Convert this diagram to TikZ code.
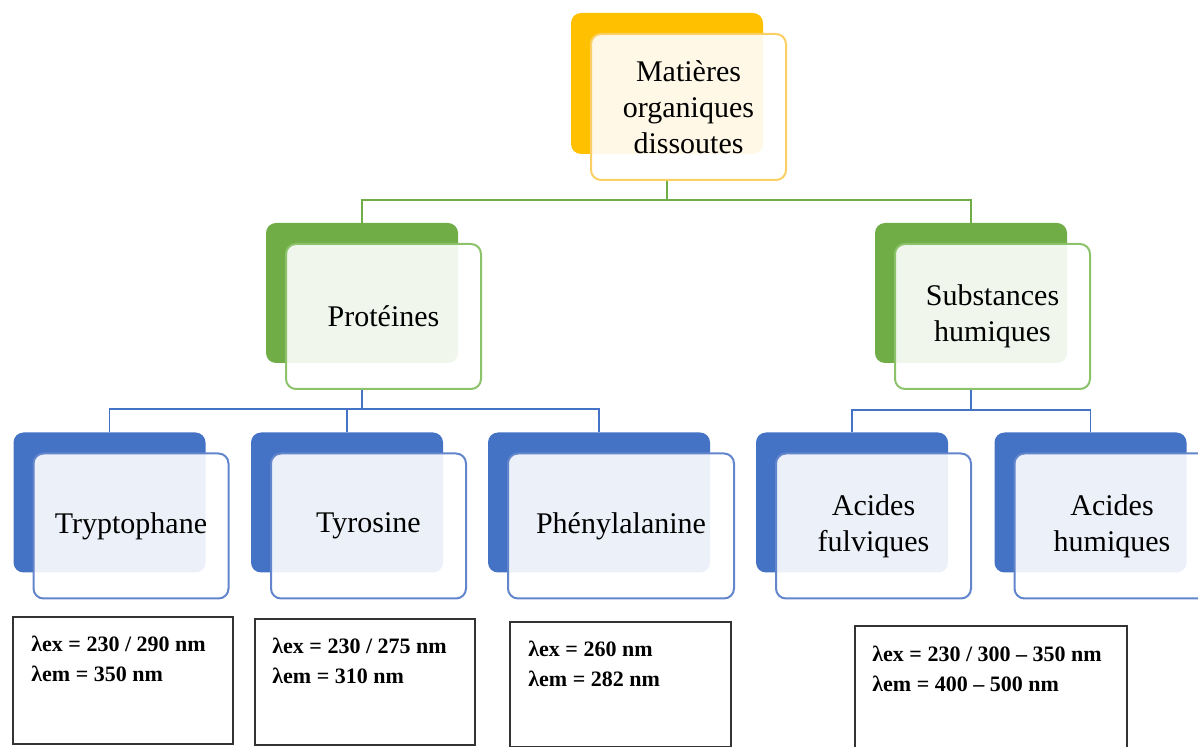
\documentclass[tikz,border=0pt]{standalone}
\usepackage{fontspec}
\setmainfont{Liberation Serif}
\usepackage{tikz}
\usetikzlibrary{positioning}

\definecolor{orangeB}{HTML}{FFC000}
\definecolor{orangeF}{HTML}{FAD065}
\definecolor{greenB}{HTML}{70AD47}
\definecolor{greenF}{HTML}{8CC36A}
\definecolor{blueB}{HTML}{4472C4}
\definecolor{blueF}{HTML}{6385CC}

\begin{document}
\begin{tikzpicture}[x=0.5pt, y=-0.5pt,
  back/.style={rounded corners=5pt, inner sep=0pt, minimum width=96pt, minimum height=70pt},
  front/.style={draw, rounded corners=5pt, line width=1pt, fill=white, fill opacity=0.9, text opacity=1,
    align=center, inner sep=0pt, minimum width=97.5pt, minimum height=72.5pt,
    font=\fontsize{15}{18}\selectfont},
  wide/.style={minimum width=111pt},
  widef/.style={minimum width=113pt},
  gline/.style={draw=greenB, line width=0.8pt},
  bline/.style={draw=blueB, line width=0.8pt},
  databox/.style={draw=black!80, line width=1pt, anchor=north west, inner sep=0pt},
  datatext/.style={anchor=north west, align=left, inner sep=0pt,
    font=\bfseries\fontsize{11}{15}\selectfont}]
  \useasboundingbox (0,0) rectangle (1198,747);
  \clip (0,0) rectangle (1198,747);

  \coordinate (busT) at (0,200);
  \coordinate (busP) at (0,409);
  \coordinate (busS) at (0,410);

  \node (modB)  [back, fill=orangeB, minimum height=70.5pt] at (667,83.5) {};
  \node (mod)   [front, draw=orangeF, minimum height=73pt] at ([shift={(21.5,23.5)}]modB.center)
                {Matières\\organiques\\dissoutes};

  \node (protB) [back, fill=greenB] at (362,293) {};
  \node (prot)  [front, draw=greenF] at ([shift={(21.5,23.5)}]protB.center) {Protéines};
  \node (subB)  [back, fill=greenB] at (971,293) {};
  \node (sub)   [front, draw=greenF] at ([shift={(21.5,23.5)}]subB.center) {Substances\\humiques};

  \node (trpB)  [back, fill=blueB] at (109.5,502.5) {};
  \node (trp)   [front, draw=blueF] at ([shift={(21.5,23.5)}]trpB.center) {Tryptophane};
  \node (tyrB)  [back, fill=blueB] at (347,502.5) {};
  \node (tyr)   [front, draw=blueF] at ([shift={(21.5,23.5)}]tyrB.center) {Tyrosine};
  \node (pheB)  [back, wide, fill=blueB] at (599,502.5) {};
  \node (phe)   [front, widef, draw=blueF] at ([shift={(22,23.5)}]pheB.center) {Phénylalanine};
  \node (afuB)  [back, fill=blueB] at (852,502.5) {};
  \node (afu)   [front, draw=blueF] at ([shift={(21.5,23.5)}]afuB.center) {Acides\\fulviques};
  \node (ahuB)  [back, fill=blueB] at (1090.5,502.5) {};
  \node (ahu)   [front, draw=blueF] at ([shift={(21.5,23.5)}]ahuB.center) {Acides\\humiques};

  \draw[gline] (modB |- mod.south) -- (modB |- busT) -| (protB.north);
  \draw[gline] (modB |- busT) -| (subB.north);
  \draw[bline] (protB |- prot.south) -- (protB |- busP) -| (trpB.north);
  \draw[bline] (protB |- busP) -| (tyrB.north);
  \draw[bline] (protB |- busP) -| (pheB.north);
  \draw[bline] (subB |- sub.south) -- (subB |- busS) -| (afuB.north);
  \draw[bline] (subB |- busS) -| (ahuB.north);

  \node (trpD) [databox, minimum width=110pt, minimum height=63.5pt] at (12,616) {};
  \node (trpT) [datatext] at ([shift={(19,20)}]trpD.north west)
               {λex = 230 / 290 nm\\λem = 350 nm};
  \node (tyrD) [databox, minimum width=110pt, minimum height=63pt] at (254,618) {};
  \node (tyrT) [datatext] at ([shift={(18,20)}]tyrD.north west)
               {λex = 230 / 275 nm\\λem = 310 nm};
  \node (pheD) [databox, minimum width=110.5pt, minimum height=62.5pt] at (509,621) {};
  \node (pheT) [datatext] at ([shift={(19,20)}]pheD.north west)
               {λex = 260 nm\\λem = 282 nm};
  \node (humD) [databox, minimum width=136pt, minimum height=70pt] at (854,625) {};
  \node (humT) [datatext] at ([shift={(18,21)}]humD.north west)
               {λex = 230 / 300 – 350 nm\\λem = 400 – 500 nm};
\end{tikzpicture}
\end{document}
